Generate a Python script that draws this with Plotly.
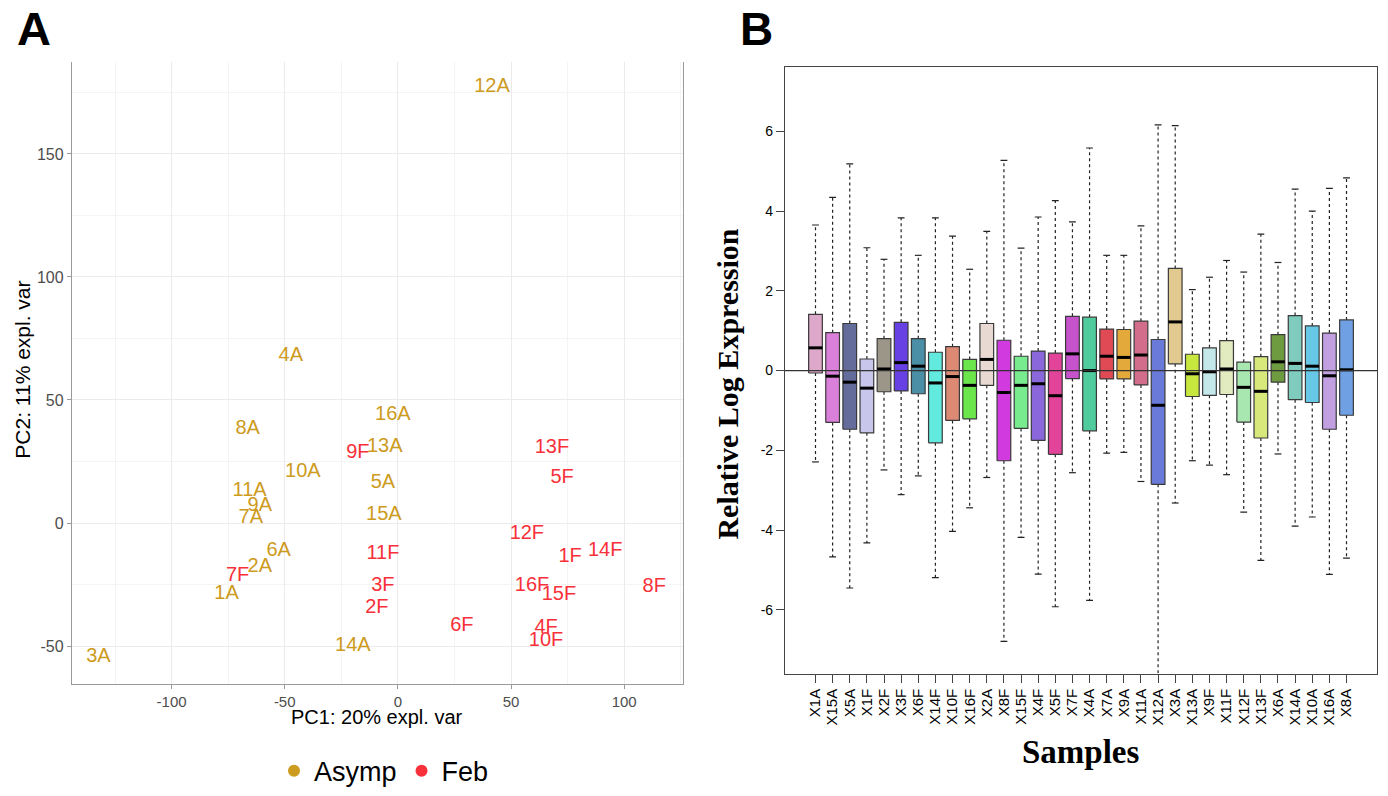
import plotly.graph_objects as go

# ---------------- Panel A data (PCA) ----------------
pca_labels = ["12A", "4A", "8A", "16A", "9F", "13A", "10A", "5A", "11A", "9A", "7A", "15A",
              "6A", "11F", "2A", "7F", "1A", "3F", "2F", "14A", "3A", "6F", "13F", "5F",
              "12F", "1F", "14F", "16F", "15F", "8F", "4F", "10F"]
pca_group = ["Asymp", "Asymp", "Asymp", "Asymp", "Feb", "Asymp", "Asymp", "Asymp", "Asymp", "Asymp",
             "Asymp", "Asymp", "Asymp", "Feb", "Asymp", "Feb", "Asymp", "Feb", "Feb", "Asymp",
             "Asymp", "Feb", "Feb", "Feb", "Feb", "Feb", "Feb", "Feb", "Feb", "Feb", "Feb", "Feb"]
pc1 = [41.6, -47.3, -66.4, -2.2, -17.7, -5.8, -42.0, -6.6, -65.5, -61.0, -65.0, -6.2,
       -52.7, -6.6, -61.0, -70.8, -75.7, -6.6, -9.3, -19.9, -132.3, 28.3, 68.1, 72.6,
       57.0, 76.1, 91.6, 59.3, 71.2, 113.3, 65.5, 65.5]
pc2 = [177.4, 67.7, 38.3, 44.0, 28.6, 31.0, 20.6, 16.1, 12.9, 6.9, 2.0, 3.2,
       -11.3, -12.5, -17.7, -21.4, -29.0, -25.8, -34.7, -50.0, -54.4, -41.9, 30.6, 18.1,
       -4.4, -13.7, -11.3, -25.8, -29.4, -26.2, -42.7, -48.0]
group_colors = {"Asymp": "#CD9B1D", "Feb": "#F8303A"}
pca_xticks = [-100, -50, 0, 50, 100]
pca_yticks = [-50, 0, 50, 100, 150]

# ---------------- Panel B data (RLE boxplot) ----------------
samples = ["X1A", "X15A", "X5A", "X1F", "X2F", "X3F", "X6F", "X14F", "X10F", "X16F", "X2A",
           "X8F", "X15F", "X4F", "X5F", "X7F", "X4A", "X7A", "X9A", "X11A", "X12A", "X3A",
           "X13A", "X9F", "X11F", "X12F", "X13F", "X6A", "X14A", "X10A", "X16A", "X8A"]
whisk_hi = [3.65, 4.34, 5.18, 3.08, 2.79, 3.83, 2.89, 3.83, 3.37, 2.54, 3.49,
            5.27, 3.07, 3.85, 4.26, 3.73, 5.58, 2.89, 2.89, 3.63, 6.16, 6.14,
            2.03, 2.34, 2.76, 2.47, 3.42, 2.71, 4.55, 4.00, 4.57, 4.83]
box_q3 = [1.41, 0.95, 1.18, 0.29, 0.80, 1.21, 0.80, 0.46, 0.60, 0.28, 1.18,
          0.76, 0.36, 0.49, 0.44, 1.36, 1.34, 1.04, 1.03, 1.24, 0.78, 2.56,
          0.41, 0.57, 0.75, 0.21, 0.35, 0.90, 1.38, 1.12, 0.94, 1.27]
box_med = [0.57, -0.14, -0.29, -0.44, 0.04, 0.20, 0.11, -0.31, -0.15, -0.37, 0.28,
           -0.55, -0.37, -0.33, -0.63, 0.42, 0.00, 0.36, 0.33, 0.39, -0.87, 1.22,
           -0.08, -0.03, 0.04, -0.42, -0.52, 0.22, 0.18, 0.11, -0.13, 0.02]
box_q1 = [-0.06, -1.30, -1.47, -1.56, -0.53, -0.51, -0.58, -1.81, -1.25, -1.21, -0.37,
          -2.26, -1.45, -1.75, -2.10, -0.20, -1.51, -0.21, -0.21, -0.36, -2.85, 0.17,
          -0.65, -0.62, -0.60, -1.29, -1.69, -0.29, -0.73, -0.80, -1.47, -1.12]
whisk_lo = [-2.29, -4.67, -5.45, -4.32, -2.49, -3.11, -2.64, -5.19, -4.03, -3.44, -2.68,
            -6.79, -4.18, -5.10, -5.92, -2.56, -5.76, -2.07, -2.05, -2.78, -9.0, -3.32,
            -2.26, -2.37, -2.61, -3.55, -4.76, -2.09, -3.90, -3.67, -5.11, -4.70]
box_colors = ["#DDA8C9", "#DA80DA", "#636C9A", "#C8C6EA", "#9B9688", "#6841E4", "#4A8FA5",
              "#61EADD", "#DC8A74", "#6BE74C", "#E8DAD3", "#D13ADE", "#77EB8E", "#8A68DC",
              "#E2449A", "#C653CC", "#4FCB9D", "#E04A55", "#E4A93B", "#D26D8B", "#6A7AD9",
              "#E2C98F", "#C7E63E", "#C4E8E9", "#E2EBC0", "#A8E8B0", "#D8E87A", "#6F9B40",
              "#7FCBBE", "#66C8E6", "#C29FE0", "#6EA0E3"]
rle_yticks = [-6, -4, -2, 0, 2, 4, 6]

fig = go.Figure()

# ---- Panel A traces ----
for g in ["Asymp", "Feb"]:
    xs = [x for x, gg in zip(pc1, pca_group) if gg == g]
    ys = [y for y, gg in zip(pc2, pca_group) if gg == g]
    ts = [t for t, gg in zip(pca_labels, pca_group) if gg == g]
    fig.add_trace(go.Scatter(x=xs, y=ys, text=ts, mode="text",
                             textfont=dict(size=20, color=group_colors[g],
                                           family="Liberation Sans, Arial"),
                             showlegend=False, hoverinfo="text", xaxis="x", yaxis="y"))
    fig.add_trace(go.Scatter(x=[None], y=[None], mode="markers", name=g,
                             marker=dict(size=11, color=group_colors[g]),
                             xaxis="x", yaxis="y"))

# ---- Panel B traces ----
n = len(samples)
hw = 0.4
cw = 0.2
wx, wy, cx, cy, mx, my = [], [], [], [], [], []
for i in range(n):
    wx += [i, i, None, i, i, None]
    wy += [box_q3[i], whisk_hi[i], None, box_q1[i], whisk_lo[i], None]
    cx += [i - cw, i + cw, None, i - cw, i + cw, None]
    cy += [whisk_hi[i], whisk_hi[i], None, whisk_lo[i], whisk_lo[i], None]
    mx += [i - hw, i + hw, None]
    my += [box_med[i], box_med[i], None]

fig.add_trace(go.Scatter(x=wx, y=wy, mode="lines", line=dict(color="#222", width=1.2, dash="3px,3px"),
                         showlegend=False, hoverinfo="skip", xaxis="x2", yaxis="y2"))
fig.add_trace(go.Scatter(x=cx, y=cy, mode="lines", line=dict(color="#222", width=1.2),
                         showlegend=False, hoverinfo="skip", xaxis="x2", yaxis="y2"))
for i in range(n):
    fig.add_trace(go.Scatter(x=[i - hw, i + hw, i + hw, i - hw, i - hw],
                             y=[box_q1[i], box_q1[i], box_q3[i], box_q3[i], box_q1[i]],
                             mode="lines", fill="toself", fillcolor=box_colors[i],
                             line=dict(color="#3A3A3A", width=1.2),
                             showlegend=False, name=samples[i], hoverinfo="name",
                             xaxis="x2", yaxis="y2"))
fig.add_trace(go.Scatter(x=mx, y=my, mode="lines", line=dict(color="black", width=3),
                         showlegend=False, hoverinfo="skip", xaxis="x2", yaxis="y2"))

fig.add_shape(type="line", xref="x2 domain", yref="y2", x0=0, x1=1, y0=0, y1=0,
              line=dict(color="#333", width=1.3), layer="above")

# page has an 8px body margin; figure sized to fill the rest of the window
OFF = 8
W, H = 1380, 788
def px(v): return (v - OFF) / W
def py(v): return 1 - (v - OFF) / H

gray = "#4D4D4D"
fig.update_layout(
    width=W, height=H, margin=dict(l=0, r=0, t=0, b=0),
    paper_bgcolor="white", plot_bgcolor="white",
    font=dict(family="Liberation Sans, Arial", color="black"),
    xaxis=dict(domain=[px(72), px(683)], range=[-144, 126],
               tickvals=pca_xticks, ticktext=[str(v) for v in pca_xticks],
               showgrid=True, gridcolor="#EBEBEB", gridwidth=1.3,
               minor=dict(dtick=25, tick0=0, showgrid=True, gridcolor="#F4F4F4", gridwidth=1),
               zeroline=False, showline=True, linecolor="#9A9A9A", linewidth=1.3,
               ticks="outside", ticklen=4, tickcolor="#9A9A9A",
               tickfont=dict(size=15, color=gray), anchor="y"),
    yaxis=dict(domain=[py(688), py(62)], range=[-65.3, 187.5],
               tickvals=pca_yticks, ticktext=[str(v) for v in pca_yticks],
               showgrid=True, gridcolor="#EBEBEB", gridwidth=1.3,
               minor=dict(dtick=25, tick0=0, showgrid=True, gridcolor="#F4F4F4", gridwidth=1),
               zeroline=False, showline=True, mirror=True, linecolor="#9A9A9A", linewidth=1.3,
               ticks="outside", ticklen=4, tickcolor="#9A9A9A",
               tickfont=dict(size=16, color=gray), anchor="x"),
    xaxis2=dict(domain=[px(785), px(1377)], range=[-1.78, n - 1 + 1.78],
                tickvals=list(range(n)), ticktext=samples, tickangle=-90,
                showgrid=False, zeroline=False, showline=True, mirror=True,
                linecolor="#444", linewidth=1.2, ticks="outside", ticklen=8, tickcolor="#444",
                tickfont=dict(size=15, color="black", family="Liberation Sans, Arial"), anchor="y2"),
    yaxis2=dict(domain=[py(678), py(67)], range=[-7.6, 7.62],
                tickvals=rle_yticks, ticktext=[str(v) for v in rle_yticks],
                showgrid=False, zeroline=False, showline=True, mirror=True,
                linecolor="#444", linewidth=1.2, ticks="outside", ticklen=8, tickcolor="#444",
                tickfont=dict(size=14, color="black"), anchor="x2"),
    legend=dict(orientation="h", x=px(384), y=py(776), xanchor="center", yanchor="middle",
                font=dict(size=27, color="black"), itemsizing="constant", bgcolor="rgba(0,0,0,0)"),
    showlegend=True,
)

ann = [
    dict(text="<b>A</b>", x=px(34), y=py(29), font=dict(size=47, family="Liberation Sans, Arial")),
    dict(text="<b>B</b>", x=px(756), y=py(29), font=dict(size=46, family="Liberation Sans, Arial")),
    dict(text="PC1: 20% expl. var", x=px(377), y=py(722), font=dict(size=20, color="black")),
    dict(text="PC2: 11% expl. var", x=px(23), y=py(372), textangle=-90, font=dict(size=21, color="black")),
    dict(text="<b>Relative Log Expression</b>", x=px(728), y=py(387), textangle=-90,
         font=dict(size=30, family="Liberation Serif, Times New Roman")),
    dict(text="<b>Samples</b>", x=px(1081), y=py(757),
         font=dict(size=33, family="Liberation Serif, Times New Roman")),
]
for a in ann:
    a.update(xref="paper", yref="paper", showarrow=False, xanchor="center", yanchor="middle")
    fig.add_annotation(**a)

fig.write_html("out.html")
